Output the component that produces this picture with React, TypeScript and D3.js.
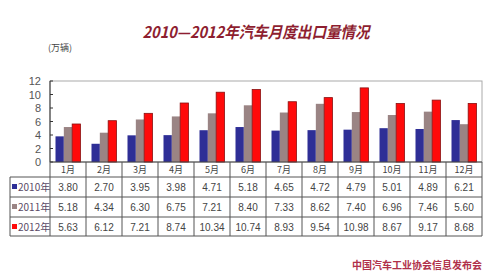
import React from "react";
import * as d3 from "d3";

const months = ["1月","2月","3月","4月","5月","6月","7月","8月","9月","10月","11月","12月"];
const seriesNames = ["2010年","2011年","2012年"];
const v2010 = [3.80,2.70,3.95,3.98,4.71,5.18,4.65,4.72,4.79,5.01,4.89,6.21];
const v2011 = [5.18,4.34,6.30,6.75,7.21,8.40,7.33,8.62,7.40,6.96,7.46,5.60];
const v2012 = [5.63,6.12,7.21,8.74,10.34,10.74,8.93,9.54,10.98,8.67,9.17,8.68];
const yTicks = [0,2,4,6,8,10,12];
const seriesValues = [v2010, v2011, v2012];
const colors = ["#2E2E96", "#9A8484", "#FF0A0A"];
const strokes = ["none", "none", "#8A1010"];

export default function App() {
  const W = 500, H = 279;
  const left = 50, right = 482, top = 81, bottom = 162;
  const x = d3.scaleBand().domain(months).range([left, right]);
  const x1 = d3.scaleBand().domain(seriesNames).range([0, 25]);
  const y = d3.scaleLinear().domain([0, 12]).range([bottom, top]);
  const bw = x.bandwidth();
  const off = (bw - 25) / 2;
  const rowY = [162, 177, 197, 217, 236];
  const tableLeft = 10;
  const font = "'Liberation Sans', Arial, sans-serif";
  const cjk = "'Noto Sans CJK SC', sans-serif";
  return (
    <svg width={W} height={H} style={{ position: "absolute", left: 0, top: 0, background: "#fff" }}>
      <rect x={0} y={0} width={W} height={H} fill="#fff" />
      <text x={256} y={38} textAnchor="middle" fontFamily={cjk} fontSize={16} fontWeight="bold" fontStyle="italic" fill="#8E1E30" textLength={227} lengthAdjust="spacingAndGlyphs">2010—2012年汽车月度出口量情况</text>
      <text x={48} y={51} fontFamily={cjk} fontSize={9} fill="#444">(万辆)</text>
      <rect x={left} y={top} width={right - left} height={bottom - top} fill="none" stroke="#aaa" strokeWidth={1} />
      <line x1={left} x2={left} y1={top} y2={bottom} stroke="#333" />
      {yTicks.map(t => (
        <g key={t}>
          <line x1={left} x2={left + 3} y1={y(t)} y2={y(t)} stroke="#333" />
          <text x={41} y={y(t) + 4} textAnchor="end" fontFamily={font} fontSize={11} fill="#555">{t}</text>
        </g>
      ))}
      {seriesValues.map((vals, si) => vals.map((v, i) => (
        <rect key={si + "-" + i} x={(x(months[i]) as number) + off + (x1(seriesNames[si]) as number)} y={y(v)} width={x1.bandwidth()} height={bottom - y(v)} fill={colors[si]} stroke={strokes[si]} strokeWidth={0.8} />
      )))}
      <line x1={left} x2={right} y1={bottom} y2={bottom} stroke="#444" />
      {rowY.slice(1).map(ry => (
        <line key={ry} x1={tableLeft} x2={right} y1={ry} y2={ry} stroke="#555" strokeWidth={1} />
      ))}
      <line x1={tableLeft} x2={tableLeft} y1={rowY[1]} y2={rowY[4]} stroke="#555" />
      {months.map(m => (
        <line key={m} x1={x(m) as number} x2={x(m) as number} y1={rowY[0]} y2={rowY[4]} stroke="#555" />
      ))}
      <line x1={right} x2={right} y1={rowY[0]} y2={rowY[4]} stroke="#555" />
      {months.map(m => (
        <text key={m} x={(x(m) as number) + bw / 2} y={173} textAnchor="middle" fontFamily={cjk} fontSize={9} fill="#444">{m}</text>
      ))}
      {seriesNames.map((s, si) => (
        <g key={s}>
          <rect x={12} y={rowY[si + 1] + 7} width={5} height={5} fill={colors[si]} />
          <text x={18} y={rowY[si + 1] + 14} fontFamily={cjk} fontSize={10} fill="#5a4a66">{s}</text>
          {seriesValues[si].map((v, i) => (
            <text key={i} x={(x(months[i]) as number) + bw / 2} y={rowY[si + 1] + 14} textAnchor="middle" fontFamily={font} fontSize={10} fill="#444">{v.toFixed(2)}</text>
          ))}
        </g>
      ))}
      <text x={482} y={269} textAnchor="end" fontFamily={cjk} fontSize={10} fontWeight="bold" fill="#B0304A">中国汽车工业协会信息发布会</text>
    </svg>
  );
}
